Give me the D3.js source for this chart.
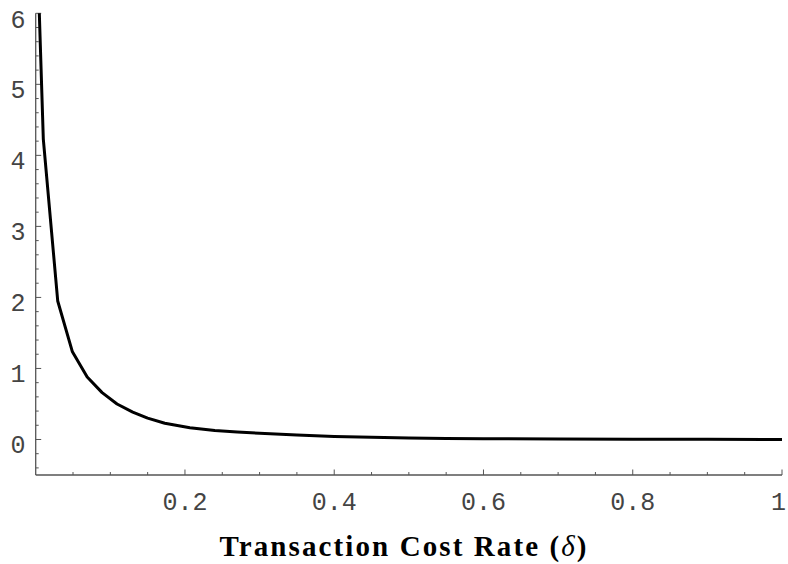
<!DOCTYPE html>
<html><head><meta charset="utf-8">
<script src="https://cdn.jsdelivr.net/npm/d3@7"></script>
<style>body{margin:0;background:#fff}</style>
</head><body>
<svg id="c" width="788" height="564"></svg>
<script>
const xValues = [0, 0.0102, 0.0295, 0.049, 0.069, 0.089, 0.109, 0.13, 0.15, 0.173, 0.2066, 0.24, 0.27, 0.30, 0.35, 0.40, 0.45, 0.50, 0.55, 0.6, 0.7, 0.8, 0.9, 1.0];
const yValues = [7.6, 4.23, 1.95, 1.24, 0.88, 0.66, 0.50, 0.385, 0.30, 0.228, 0.166, 0.125, 0.104, 0.087, 0.062, 0.043, 0.030, 0.021, 0.015, 0.011, 0.006, 0.003, 0.002, 0.001];
const xTicks = [0.2, 0.4, 0.6, 0.8, 1];
const xTickLabels = ["0.2", "0.4", "0.6", "0.8", "1"];
const yTicks = [0, 1, 2, 3, 4, 5, 6];
const yTickLabels = ["0", "1", "2", "3", "4", "5", "6"];
const xLabel = "Transaction Cost Rate (";
const xLabelSym = "δ";

const svg = d3.select("#c");
const x = d3.scaleLinear().domain([0, 1]).range([35.7, 782]);
const y = d3.scaleLinear().domain([-0.5, 6]).range([475, 13.3]);
const axisColor = "#555";

svg.append("clipPath").attr("id", "clip").append("rect")
  .attr("x", x(0)).attr("y", y(6)).attr("width", x(1) - x(0)).attr("height", y(-0.5) - y(6));

const xMinor = d3.range(1, 21).map(i => i * 0.05);
const yMinor = d3.range(-2, 31).map(i => i * 0.2);
const isMajor = (arr, d) => arr.some(t => Math.abs(t - d) < 1e-9);
const g = svg.append("g");
g.selectAll(".xm").data(xMinor).enter().append("line")
  .attr("x1", d => x(d)).attr("x2", d => x(d))
  .attr("y1", y(-0.5)).attr("y2", d => y(-0.5) - (isMajor(xTicks, d) ? 5.5 : 3))
  .attr("stroke", axisColor).attr("stroke-width", 1);
g.selectAll(".ym").data(yMinor).enter().append("line")
  .attr("y1", d => y(d)).attr("y2", d => y(d))
  .attr("x1", x(0)).attr("x2", d => x(0) + (isMajor(yTicks, d) ? 5.5 : 3))
  .attr("stroke", axisColor).attr("stroke-width", 1);

g.append("line").attr("x1", x(0)).attr("x2", x(1)).attr("y1", y(-0.5)).attr("y2", y(-0.5))
  .attr("stroke", axisColor).attr("stroke-width", 1.3);
g.append("line").attr("x1", x(0)).attr("x2", x(0)).attr("y1", y(-0.5)).attr("y2", y(6))
  .attr("stroke", axisColor).attr("stroke-width", 1.3);

const monoFont = "'Liberation Mono', 'Courier New', monospace";
svg.selectAll(".xl").data(xTicks).enter().append("text")
  .attr("x", d => d === 1 ? 786 : x(d)).attr("y", 501).attr("dy", "0.35em")
  .attr("text-anchor", d => d === 1 ? "end" : "middle")
  .attr("font-family", monoFont)
  .attr("font-size", 25).attr("fill", "#444")
  .text((d, i) => xTickLabels[i]);
svg.selectAll(".yl").data(yTicks).enter().append("text")
  .attr("x", 25.5).attr("y", d => Math.max(y(d) + 4.5, 19.5)).attr("dy", "0.35em")
  .attr("text-anchor", "end")
  .attr("font-family", monoFont)
  .attr("font-size", 25).attr("fill", "#444")
  .text((d, i) => yTickLabels[i]);

const pts = xValues.map((v, i) => [v, yValues[i]]);
svg.append("path").datum(pts)
  .attr("clip-path", "url(#clip)")
  .attr("fill", "none").attr("stroke", "#000").attr("stroke-width", 3)
  .attr("stroke-linejoin", "round")
  .attr("d", d3.line().x(d => x(d[0])).y(d => y(d[1])));

const t = svg.append("text")
  .attr("x", 403).attr("y", 556).attr("text-anchor", "middle")
  .attr("font-family", "'Liberation Serif', 'Times New Roman', serif")
  .attr("font-size", 29).attr("font-weight", "bold").attr("fill", "#000")
  .attr("textLength", 367).attr("lengthAdjust", "spacing");
t.append("tspan").text(xLabel);
t.append("tspan").attr("font-style", "italic").attr("font-weight", "normal").text(xLabelSym);
t.append("tspan").text(")");
</script>
</body></html>
